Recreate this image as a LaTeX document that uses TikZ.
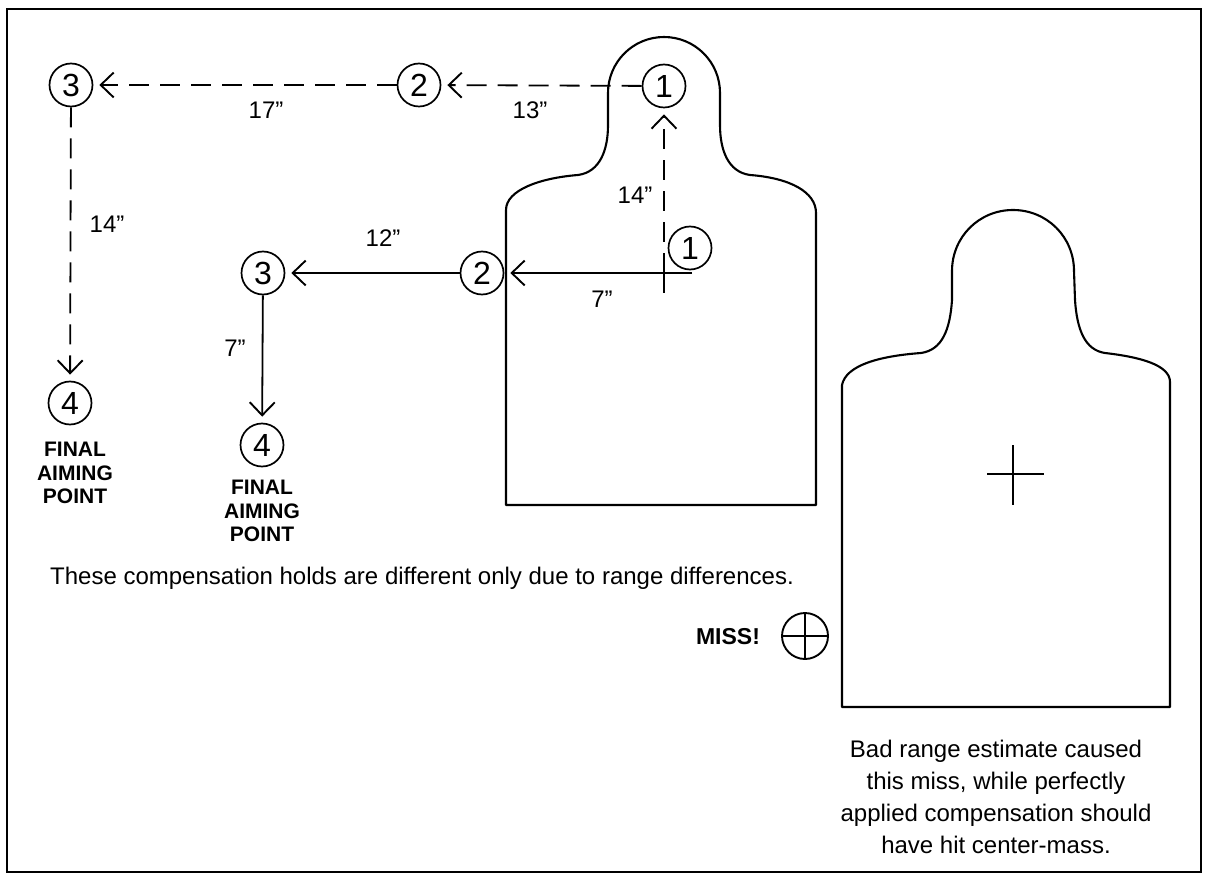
\documentclass[tikz,border=0pt]{standalone}
\usepackage{fontspec}
\setmainfont{Liberation Sans}
\usepackage{tikz}
\usetikzlibrary{arrows.meta}

\begin{document}
\begin{tikzpicture}[x=1pt,y=-1pt,
      pt/.style={draw,circle,line width=1.7pt,minimum size=43pt,inner sep=0pt,
                 font=\fontsize{32}{32}\selectfont},
      ar/.style={line width=1.8pt,shorten >=6pt,
                 -{Straight Barb[length=13pt,width=25pt,line width=1.9pt]}},
      hold/.style={ar,dash pattern=on 20pt off 11pt},
      lbl/.style={font=\fontsize{24}{26}\selectfont},
      fap/.style={font=\bfseries\fontsize{21}{23.5}\selectfont,align=center},
      txt/.style={font=\fontsize{24}{32}\selectfont,align=center},
      sil/.style={line width=2.1pt,line join=round}]
    \useasboundingbox (0,0) rectangle (1206,874);
    \draw[line width=1.5pt] (7,9) rectangle (1201,872);
    % first target
    \draw[sil] (506,505) -- (506,210) .. controls (506,190) and (540,178) .. (578,175)
      .. controls (600,172) and (608,150) .. (608,125) -- (608,93)
      .. controls (608,62) and (633,37) .. (664,37)
      .. controls (695,37) and (720,62) .. (720,93) -- (720,125)
      .. controls (720,150) and (728,172) .. (750,175)
      .. controls (790,178) and (816,192) .. (816,213) -- (816,505) -- cycle;
    % second target
    \draw[sil] (842,707) -- (842,385) .. controls (846,365) and (880,356) .. (921,353)
      .. controls (942,350) and (950,330) .. (952,300) -- (952,271)
      .. controls (952,237) and (979,210) .. (1013,210)
      .. controls (1047,210) and (1074,237) .. (1074,271) -- (1075,300)
      .. controls (1077,330) and (1085,350) .. (1105,353)
      .. controls (1140,357) and (1170,365) .. (1170,382) -- (1170,707) -- cycle;
    \draw[line width=2.6pt] (987,474) -- (1044,474) (1013,445) -- (1013,505);
    % long range holds
    \node[pt] (t1) at (664,86) {1};
    \node[pt] (t2) at (419,85) {2};
    \node[pt] (t3) at (71,85) {3};
    \node[pt] (t4) at (70,403) {4};
    \coordinate (aim) at (664,273);
    \draw[line width=1.8pt] (aim) -- ++(0,20);
    \draw[hold] (aim) -- (t1);
    \draw[hold] (t1) -- (t2);
    \draw[hold] (t2) -- (t3);
    \draw[hold] (t3) -- (t4);
    \node[lbl] (d14a) at (635,195) {14”};
    \node[lbl] (d13) at (530,110) {13”};
    \node[lbl] (d17) at (266,110) {17”};
    \node[lbl] (d14b) at (107,224) {14”};
    % short range holds
    \node[pt] (h1) at (690,248) {1};
    \node[pt] (h2) at (482,273) {2};
    \node[pt] (h3) at (263,273) {3};
    \node[pt] (h4) at (262,445) {4};
    \coordinate (h1foot) at (692,273);
    \draw[ar] (h1foot) -- (h2);
    \draw[ar] (h2) -- (h3);
    \draw[ar] (h3) -- (h4);
    \node[lbl] (d7a) at (602,299) {7”};
    \node[lbl] (d12) at (383,238) {12”};
    \node[lbl] (d7b) at (235,348) {7”};
    \foreach \n/\x/\y in {t4/75/473,h4/262/511}
      \node[fap] (fap-\n) at (\x,\y) {FINAL\\AIMING\\POINT};
    % notes
    \node[txt] (note) at (422,578)
      {These compensation holds are different only due to range differences.};
    \node[font=\bfseries\fontsize{23}{24}\selectfont] (misslbl) at (728,637) {MISS!};
    \node[draw,circle,line width=1.9pt,minimum size=46pt,inner sep=0pt] (miss) at (805,636) {};
    \draw[line width=1.9pt] (miss.north) -- (miss.south) (miss.west) -- (miss.east);
    \node[txt] (why) at (996,797)
      {Bad range estimate caused\\this miss, while perfectly\\applied compensation should\\have hit center-mass.};
  \end{tikzpicture}
\end{document}
